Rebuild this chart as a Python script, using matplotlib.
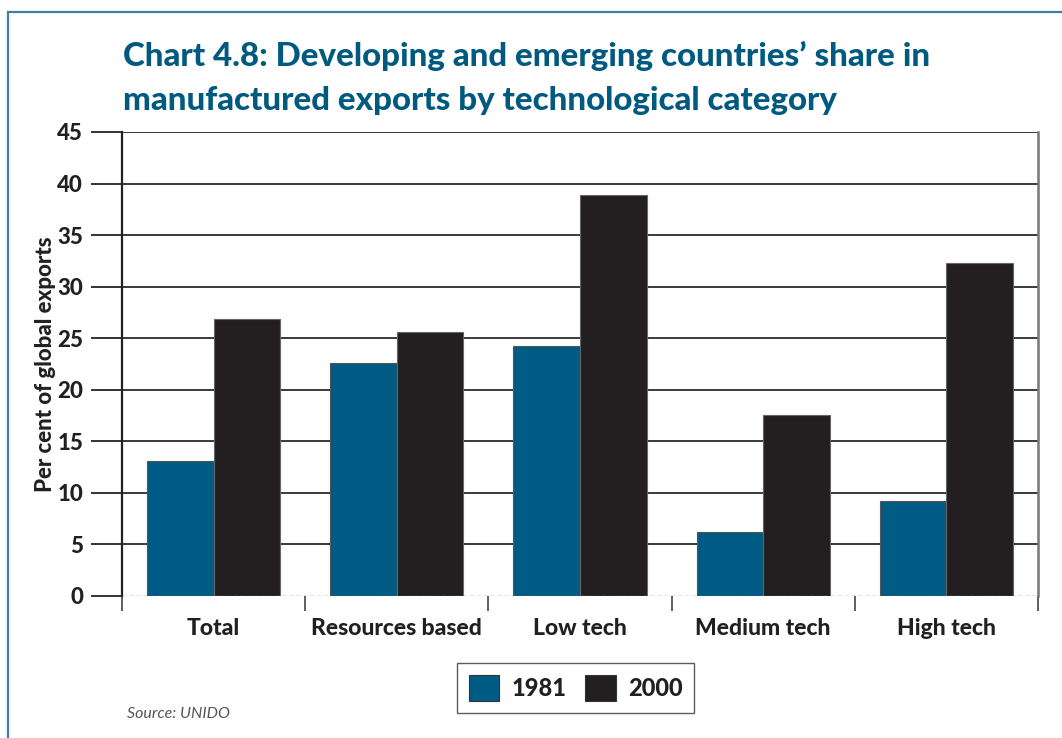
import matplotlib
matplotlib.use("Agg")
import matplotlib.pyplot as plt
from matplotlib.patches import Rectangle, Patch
import numpy as np

plt.rcParams['font.family'] = ['Lato', 'DejaVu Sans']

categories = ["Total", "Resources based", "Low tech", "Medium tech", "High tech"]
share_1981 = [13.1, 22.6, 24.2, 6.2, 9.2]
share_2000 = [26.9, 25.65, 38.85, 17.55, 32.3]
series_labels = ["1981", "2000"]
y_ticks = [0, 5, 10, 15, 20, 25, 30, 35, 40, 45]

title_lines = ["Chart 4.8: Developing and emerging countries\u2019 share in",
               "manufactured exports by technological category"]

BLUE = "#005b84"
BLACK = "#231f20"
TITLE = "#005a80"
HEAVY = 900

W, H = 1062, 738
fig = plt.figure(figsize=(W / 100, H / 100), dpi=100)
fig.patch.set_facecolor("white")

# outer frame
fig.add_artist(Rectangle((8 / W, -0.05), 1.2, 1 - 12 / H + 0.05,
                         transform=fig.transFigure, fill=False,
                         edgecolor="#3f7fa3", linewidth=1.6))

ax = fig.add_axes([122 / W, 1 - 596 / H, (1038 - 122) / W, (596 - 132) / H])

x = np.arange(len(categories))
bw = 0.363
ax.bar(x - bw / 2, share_1981, bw, color=BLUE, edgecolor="#555555",
       linewidth=0.8, zorder=3, label=series_labels[0])
ax.bar(x + bw / 2, share_2000, bw, color=BLACK, edgecolor="#666666",
       linewidth=0.8, zorder=3, label=series_labels[1])

ax.set_xlim(-0.5, len(categories) - 0.5)
ax.set_ylim(0, 45)
ax.set_yticks(y_ticks)
ax.set_yticklabels([str(v) for v in y_ticks], fontsize=16, fontweight=HEAVY,
                   color=BLACK)
ax.tick_params(axis="y", length=22, width=1.4, color="#333333", pad=6)

# category boundary ticks below the baseline
ax.set_xticks(np.arange(-0.5, len(categories), 1.0))
ax.set_xticklabels([])
ax.set_xticks(x, minor=True)
ax.set_xticklabels(categories, minor=True, fontsize=16.5, fontweight=HEAVY,
                   color=BLACK)
ax.tick_params(axis="x", which="major", length=11, width=1.2, color="#444444")
ax.tick_params(axis="x", which="minor", length=0, pad=16)

for v in y_ticks[1:]:
    ax.axhline(v, color="#3a3a3a", linewidth=1.4, zorder=1)
ax.axhline(0, color="#777777", linewidth=1.0, linestyle=(0, (3, 2)), zorder=4)

for s in ["top", "bottom"]:
    ax.spines[s].set_visible(False)
ax.spines["left"].set_color("#222222")
ax.spines["left"].set_linewidth(1.6)
ax.spines["right"].set_color("#777777")
ax.spines["right"].set_linewidth(1.8)

ax.set_ylabel("Per cent of global exports", fontsize=16, fontweight=HEAVY,
              color=BLACK)
ax.yaxis.set_label_coords(-0.072, 0.5)

fig.text(123 / W, 1 - 66 / H, title_lines[0], fontsize=23.8, fontweight=HEAVY,
         color=TITLE, ha="left", va="baseline")
fig.text(123 / W, 1 - 110 / H, title_lines[1], fontsize=23.8, fontweight=HEAVY,
         color=TITLE, ha="left", va="baseline")

handles = [Patch(facecolor=BLUE, edgecolor="#333333", linewidth=0.8),
           Patch(facecolor=BLACK, edgecolor="#333333", linewidth=0.8)]
leg = fig.legend(handles, series_labels, loc="center",
                 bbox_to_anchor=(575.5 / W, 1 - 688 / H), ncol=2,
                 prop={"size": 17, "weight": HEAVY}, frameon=True,
                 fancybox=False, edgecolor="#333333", handlelength=1.3,
                 handleheight=1.3, handletextpad=0.5, columnspacing=0.8,
                 borderpad=0.5)
leg.get_frame().set_linewidth(1.0)
for t in leg.get_texts():
    t.set_color(BLACK)

fig.text(127 / W, 1 - 714 / H, "Source: UNIDO", fontsize=11.5, style="italic",
         color="#555555", ha="left", va="center")

fig.savefig("out.png", dpi=100)
